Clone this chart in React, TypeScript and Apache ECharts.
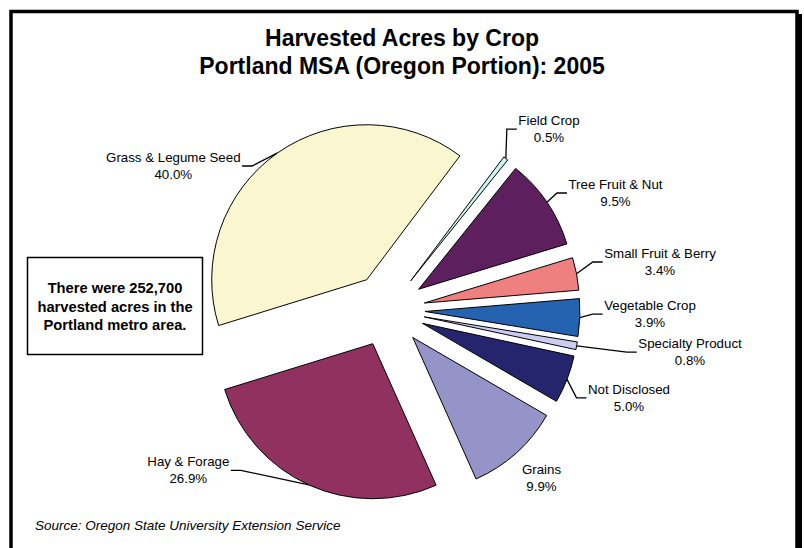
import React, { useEffect, useRef } from 'react';
import * as echarts from 'echarts';

// ---- data (clockwise order, starting with Grains) ----
const CATEGORIES = [
  'Grains',
  'Hay & Forage',
  'Grass & Legume Seed',
  'Field Crop',
  'Tree Fruit & Nut',
  'Small Fruit & Berry',
  'Vegetable Crop',
  'Specialty Product',
  'Not Disclosed',
];
const PERCENTS = [9.9, 26.9, 40.0, 0.5, 9.5, 3.4, 3.9, 0.8, 5.0];
const COLORS = ['#9494C8', '#913160', '#FAF7D0', '#CCF2F2', '#5E1F5E', '#F08080', '#2563B0', '#CCCCF0', '#25256E'];

const TITLE = 'Harvested Acres by Crop\nPortland MSA (Oregon Portion): 2005';
const NOTE = 'There were 252,700\nharvested acres in the\nPortland metro area.';
const SOURCE = 'Source: Oregon State University Extension Service';

// ---- layout ----
const CX = 388;
const CY = 310;
const R = 155;
const OFF = 37;
const START_CW = 120.2; // degrees clockwise from 12 o'clock where first slice starts
// label block centres (layout only)
const LABEL_POS: [number, number][] = [
  [541.5, 477.5],
  [188.3, 470.3],
  [173.3, 166],
  [549, 129.2],
  [615.5, 193],
  [660, 262],
  [650, 314.2],
  [690, 352.2],
  [629, 397.8],
];

const FONT = '"Liberation Sans", Arial, sans-serif';

export default function App() {
  const ref = useRef<HTMLDivElement>(null);
  useEffect(() => {
    document.body.style.margin = '0';
    if (!ref.current) return;
    const chart = echarts.init(ref.current, undefined, { renderer: 'svg' });

    const common = {
      type: 'pie',
      center: [CX, CY],
      startAngle: 90 - START_CW,
      clockwise: true,
      minAngle: 0,
      avoidLabelOverlap: false,
      emphasis: { disabled: true },
      tooltip: { show: false },
    };

    chart.setOption({
      animation: false,
      backgroundColor: '#fff',
      title: {
        text: TITLE,
        left: 'center',
        top: 19,
        padding: [5, 0, 5, 5],
        textStyle: { fontSize: 23, fontWeight: 'bold', fontFamily: FONT, lineHeight: 28, color: '#000' },
      },
      graphic: [
        { type: 'rect', silent: true, shape: { x: 11, y: 11.5, width: 786, height: 600 }, style: { fill: 'none', stroke: '#000', lineWidth: 3.5 } },
        { type: 'rect', silent: true, shape: { x: 798, y: 14, width: 4, height: 540 }, style: { fill: '#000' } },
        { type: 'rect', silent: true, shape: { x: 27.5, y: 257.5, width: 175, height: 97 }, style: { fill: '#fff', stroke: '#000', lineWidth: 1.5 } },
        {
          type: 'text', silent: true, x: 115, y: 306.5,
          style: { text: NOTE, font: `bold 14.7px ${FONT}`, fill: '#000', align: 'center', verticalAlign: 'middle', lineHeight: 18.5 },
        },
        {
          type: 'text', silent: true, x: 35, y: 525,
          style: { text: SOURCE, font: `italic 13.5px ${FONT}`, fill: '#000', align: 'left', verticalAlign: 'middle' },
        },
      ],
      series: [
        // exploded slices
        {
          ...common,
          radius: R,
          selectedMode: 'multiple',
          selectedOffset: OFF,
          itemStyle: { borderColor: '#000', borderWidth: 1 },
          select: { itemStyle: { borderColor: '#000', borderWidth: 1 } },
          label: { show: false },
          labelLine: { show: false },
          data: CATEGORIES.map((name, i) => ({
            name,
            value: PERCENTS[i],
            selected: true,
            itemStyle: { color: COLORS[i] },
          })),
        },
        // labels, anchored on the exploded outer arc
        {
          ...common,
          radius: [R + OFF, R + OFF],
          silent: true,
          selectedMode: false,
          itemStyle: { color: 'transparent', borderWidth: 0 },
          label: {
            show: true,
            position: 'outside',
            formatter: (p: any) => `${p.name}\n${Number(p.value).toFixed(1)}%`,
            fontFamily: FONT,
            fontSize: 13.3,
            lineHeight: 17,
            color: '#000',
          },
          labelLine: { show: true, length: 10, length2: 10, lineStyle: { color: '#000', width: 1.3 } },
          labelLayout: (params: any) => {
            const i = params.dataIndex;
            const [lx, ly] = LABEL_POS[i];
            const w = params.labelRect.width;
            const pts = params.labelLinePoints;
            const p0 = pts ? pts[0] : [lx, ly];
            const right = lx > p0[0];
            const endX = right ? lx - w / 2 - 1.5 : lx + w / 2 + 1.5;
            const elbowX = right ? endX - 10 : endX + 10;
            return {
              x: lx,
              y: ly,
              align: 'center',
              verticalAlign: 'middle',
              labelLinePoints: [p0, [elbowX, ly], [endX, ly]],
            };
          },
          data: CATEGORIES.map((name, i) => ({
            name,
            value: PERCENTS[i],
            labelLine: { show: i !== 0 },
          })),
        },
      ],
    });
    return () => chart.dispose();
  }, []);
  return <div ref={ref} style={{ width: 804, height: 548 }} />;
}
